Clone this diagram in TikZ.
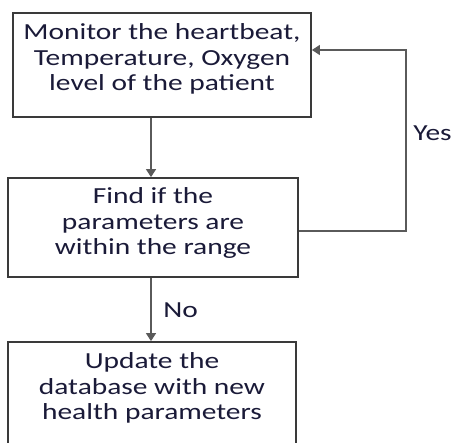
\documentclass[tikz,border=0pt]{standalone}
\usepackage{fontspec}
\setmainfont{Carlito}
\usetikzlibrary{arrows.meta}
\definecolor{boxline}{HTML}{3A3A3A}
\definecolor{linkline}{HTML}{5A5A5A}
\definecolor{ink}{HTML}{1A1A38}
\tikzset{
  stepbox/.style={draw=boxline, line width=1.8pt, fill=white, inner sep=0pt},
  steptext/.style={text=ink, align=center, font=\fontsize{23}{25.5}\selectfont, inner sep=0pt, xscale=1.28, transform shape},
  link/.style={draw=linkline, line width=1.3pt, -{Triangle[length=8pt,width=10pt]}},
  tag/.style={text=ink, font=\fontsize{23}{25}\selectfont, inner sep=0pt, xscale=1.28, transform shape}
}
\begin{document}
\begin{tikzpicture}[x=1pt,y=-1pt]
\useasboundingbox (0,0) rectangle (454,443);
\begin{scope}
\clip (0,0) rectangle (454,443);
% process boxes
\node[stepbox, minimum width=298pt, minimum height=104pt] (monitor) at (162,65) {};
\node[stepbox, minimum width=290pt, minimum height=99pt] (check) at (153,227.5) {};
\node[stepbox, minimum width=288pt, minimum height=120pt] (update) at (152,402) {};
% box texts
\node[steptext] (t1) at (162,59) {Monitor the heartbeat,\\Temperature, Oxygen\\level of the patient};
\node[steptext] (t2) at (153,223) {Find if the\\parameters are\\within the range};
\node[steptext] (t3) at (152,388) {Update the\\database with new\\health parameters};
% connectors
\draw[link] (monitor.south -| 151,0) -- (check.north -| 151,0);
\draw[link] (check.south -| 151,0) -- (update.north -| 151,0);
\coordinate (loopA) at (406,231);
\coordinate (loopB) at (406,50);
\draw[link] (check.east |- loopA) -- (loopA) -- (loopB) -- (monitor.east |- loopB);
% branch labels
\node[tag, anchor=west] (yes) at (413,133) {Yes};
\node[tag, anchor=west] (no) at (163,310) {No};
\end{scope}
\end{tikzpicture}
\end{document}
